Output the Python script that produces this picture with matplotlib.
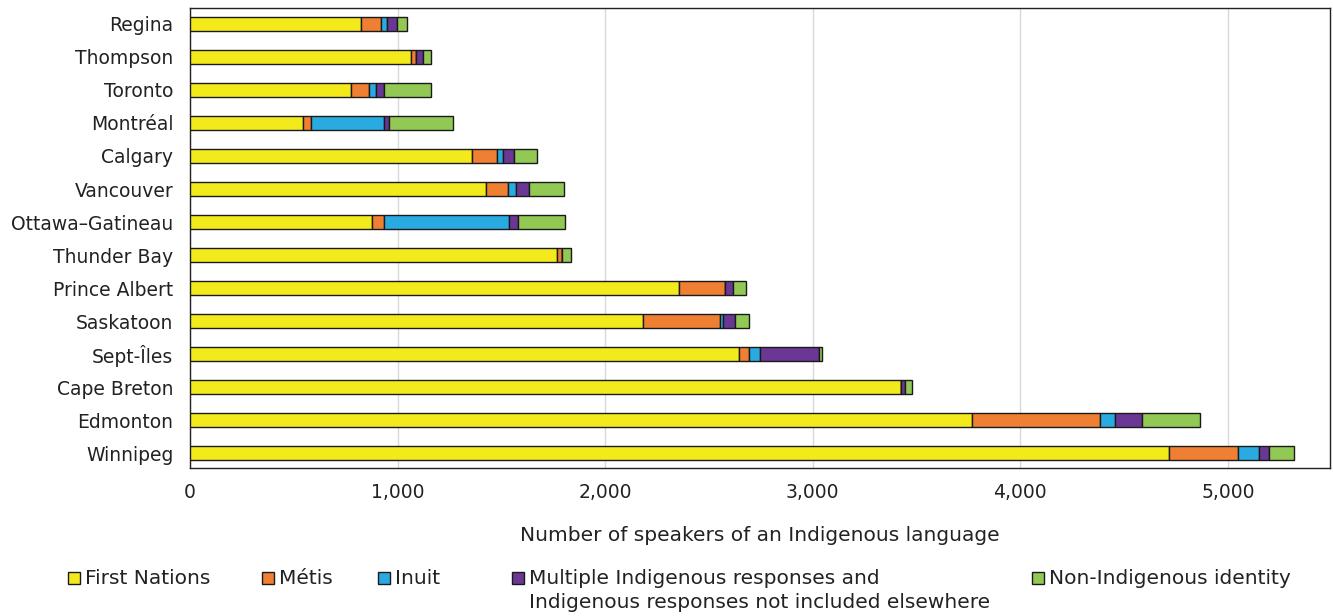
import numpy as np
import matplotlib.pyplot as plt
from matplotlib.patches import Rectangle
from matplotlib.ticker import FuncFormatter

plt.rcParams['font.family'] = ['DejaVu Sans']

# cities, top to bottom as in the chart
villes = ['Regina', 'Thompson', 'Toronto', 'Montréal', 'Calgary', 'Vancouver',
          'Ottawa–Gatineau', 'Thunder Bay', 'Prince Albert', 'Saskatoon',
          'Sept-Îles', 'Cape Breton', 'Edmonton', 'Winnipeg']

premieres_nations = [822, 1067, 778, 543, 1358, 1424, 878, 1769, 2354, 2184, 2646, 3427, 3765, 4716]
metis = [96, 20, 85, 41, 120, 106, 59, 24, 225, 369, 45, 0, 621, 331]
inuit = [29, 0, 34, 353, 30, 40, 602, 0, 0, 14, 54, 0, 71, 101]
multiples = [51, 36, 37, 24, 52, 61, 40, 0, 37, 57, 286, 19, 130, 49]
non_autoch = [47, 37, 226, 304, 114, 170, 227, 43, 61, 71, 12, 32, 280, 121]

series = [premieres_nations, metis, inuit, multiples, non_autoch]
noms = ['First Nations', 'Métis', 'Inuit',
        'Multiple Indigenous responses and\nIndigenous responses not included elsewhere',
        'Non-Indigenous identity']
couleurs = ['#F2EA1A', '#EF7F32', '#29ABE2', '#6B3795', '#92C955']
gris = '#222222'

W, H = 1333, 616
fig = plt.figure(figsize=(W / 100, H / 100), dpi=100)
ax = fig.add_axes([0.1425, 0.240, 0.855, 0.747])

y = np.arange(len(villes))[::-1]
gauche = np.zeros(len(villes))
for s, c in zip(series, couleurs):
    v = np.array(s, dtype=float)
    ax.barh(y, v, left=gauche, height=0.42, color=c, edgecolor='#1a1a1a', linewidth=1.0, zorder=3)
    gauche = gauche + v

ax.set_yticks(y)
ax.set_yticklabels(villes, fontsize=13.5, color=gris)
ax.set_xlim(0, 5490)
ax.set_ylim(-0.45, 13.48)
ax.set_xticks(np.arange(0, 5001, 1000))
ax.xaxis.set_major_formatter(FuncFormatter(lambda v, p: f'{int(v):,}'))
ax.tick_params(axis='x', labelsize=13.5, length=0, pad=11, colors=gris)
ax.tick_params(axis='y', length=0, pad=12)
ax.grid(axis='x', color='#d9d9d9', linewidth=1, zorder=0)
for sp in ax.spines.values():
    sp.set_color(gris)
    sp.set_linewidth(1.0)
ax.set_xlabel('Number of speakers of an Indigenous language', fontsize=14.5, color=gris, labelpad=17)

# legende dessinee a la main (positions en pixels)
carre_x = [68, 262, 378, 512, 1032]
for nom, c, x0 in zip(noms, couleurs, carre_x):
    fig.add_artist(Rectangle((x0 / W, 1 - 584 / H), 12 / W, 12 / H, transform=fig.transFigure,
                             facecolor=c, edgecolor='#1a1a1a', linewidth=1.0))
    for k, ligne in enumerate(nom.split('\n')):
        fig.text((x0 + 17) / W, 1 - (578 + 25 * k) / H, ligne, fontsize=14.5, color=gris,
                 ha='left', va='center')

fig.savefig('out.png', dpi=100)
